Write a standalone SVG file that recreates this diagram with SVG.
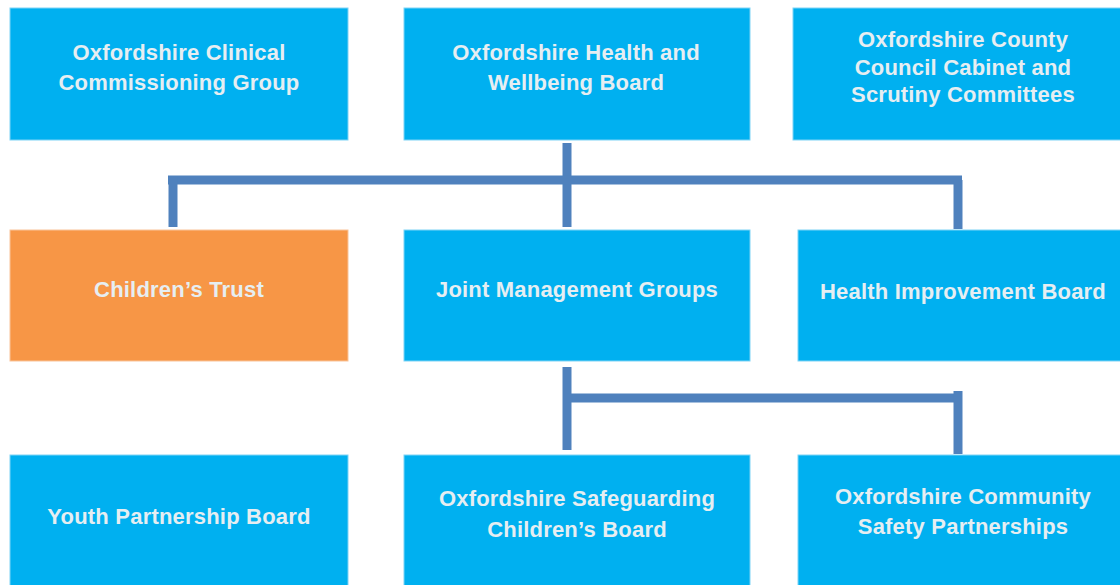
<svg xmlns="http://www.w3.org/2000/svg" width="1120" height="585" viewBox="0 0 1120 585">
<style>
.box{fill:#00B0F0;stroke:#7FD3F5;stroke-width:1}
.orange{fill:#F79646;stroke:#F9C49A;stroke-width:1}
.t{font-family:"Liberation Sans",Arial,sans-serif;font-weight:bold;font-size:22px;letter-spacing:0.2px;fill:#E6EEF2;text-anchor:middle}
.c{fill:none;stroke:#4F81BD;stroke-width:9}
</style>
<rect width="1120" height="585" fill="#FFFFFF"/>
<g id="connectors">
<path class="c" d="M567 143V227"/>
<path class="c" d="M168 180H962"/>
<path class="c" d="M173 176V227"/>
<path class="c" d="M958 180V229"/>
<path class="c" d="M567 367V450"/>
<path class="c" d="M567 398H962"/>
<path class="c" d="M958 391V454"/>
</g>
<g id="n1"><rect class="box" x="10" y="8" width="338" height="132"/><text class="t" x="179" y="60">Oxfordshire Clinical</text><text class="t" x="179" y="90">Commissioning Group</text></g>
<g id="n2"><rect class="box" x="404" y="8" width="346" height="132"/><text class="t" x="576" y="60">Oxfordshire Health and</text><text class="t" x="576" y="90">Wellbeing Board</text></g>
<g id="n3"><rect class="box" x="793" y="8" width="328" height="132"/><text class="t" x="963" y="47">Oxfordshire County</text><text class="t" x="963" y="75">Council Cabinet and</text><text class="t" x="963" y="102">Scrutiny Committees</text></g>
<g id="n4"><rect class="orange" x="10" y="230" width="338" height="131"/><text class="t" x="179" y="297">Children’s Trust</text></g>
<g id="n5"><rect class="box" x="404" y="230" width="346" height="131"/><text class="t" x="577" y="297">Joint Management Groups</text></g>
<g id="n6"><rect class="box" x="798" y="230" width="323" height="131"/><text class="t" x="963" y="299">Health Improvement Board</text></g>
<g id="n7"><rect class="box" x="10" y="455" width="338" height="131"/><text class="t" x="179" y="524">Youth Partnership  Board</text></g>
<g id="n8"><rect class="box" x="404" y="455" width="346" height="131"/><text class="t" x="577" y="506">Oxfordshire Safeguarding</text><text class="t" x="577" y="537">Children’s Board</text></g>
<g id="n9"><rect class="box" x="798" y="455" width="323" height="131"/><text class="t" x="963" y="504">Oxfordshire Community</text><text class="t" x="963" y="534">Safety Partnerships</text></g>
</svg>
